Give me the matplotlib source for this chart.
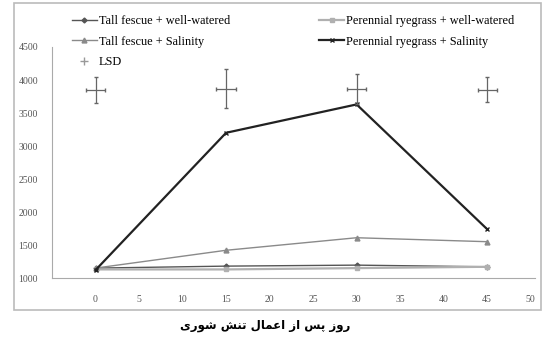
import matplotlib.pyplot as plt
from matplotlib.lines import Line2D
from matplotlib.patches import Rectangle

# data
days = [0, 15, 30, 45]
tf_ww = [1150, 1180, 1195, 1170]
pr_ww = [1130, 1130, 1150, 1170]
tf_sal = [1150, 1420, 1610, 1550]
pr_sal = [1120, 3200, 3630, 1740]
lsd_y = [3850, 3870, 3860, 3850]
lsd_err = [200, 300, 230, 190]
xticks = [0, 5, 10, 15, 20, 25, 30, 35, 40, 45, 50]
yticks = [1000, 1500, 2000, 2500, 3000, 3500, 4000, 4500]

# x label in visual order with Arabic presentation forms (no shaping engine available)
xlabel = ("\uFBFC\uFEAD\uFEEE\uFEB7 \uFEB6\uFEE8\uFE97 "
          "\uFEDD\uFE8E\uFEE4\uFECB\uFE8D \uFEAF\uFE8D \uFEB2\uFB58 \uFEAF\uFEED\uFEAD")

plt.rcParams['font.family'] = ['Liberation Serif', 'DejaVu Serif']

fig = plt.figure(figsize=(5.42, 3.45), dpi=100)
ax = fig.add_axes([52 / 542, 1 - 278 / 345, 483 / 542, 231 / 345])

ax.plot(days, tf_ww, color='#555555', lw=1.0, marker='D', ms=2.5)
ax.plot(days, pr_ww, color='#b0b0b0', lw=1.6, marker='s', ms=3)
ax.plot(days, tf_sal, color='#8a8a8a', lw=1.0, marker='^', ms=3.5)
ax.plot(days, pr_sal, color='#222222', lw=1.6, marker='x', ms=3.5)
ax.errorbar(days, lsd_y, yerr=lsd_err, xerr=1.1, fmt='none',
            ecolor='#666666', elinewidth=0.9, capsize=1.2)

ax.set_xlim(-5, 50.5)
ax.set_ylim(1000, 4500)
ax.set_xticks(xticks)
ax.set_yticks(yticks)
ax.tick_params(length=0, labelsize=7, labelcolor='#555555')
ax.tick_params(axis='y', pad=10)
ax.tick_params(axis='x', pad=12)
for s in ['top', 'right']:
    ax.spines[s].set_visible(False)
for s in ['left', 'bottom']:
    ax.spines[s].set_color('#aaaaaa')
    ax.spines[s].set_linewidth(0.8)

handles = [
    Line2D([], [], color='#555555', lw=1.0, marker='D', ms=2.5),
    Line2D([], [], color='#8a8a8a', lw=1.0, marker='^', ms=3.5),
    Line2D([], [], color='#999999', lw=0, marker='+', ms=6),
    Line2D([], [], color='#b0b0b0', lw=1.6, marker='s', ms=3),
    Line2D([], [], color='#222222', lw=1.6, marker='x', ms=3.5),
]
labels = ['Tall fescue + well-watered', 'Tall fescue + Salinity', 'LSD',
          'Perennial ryegrass + well-watered', 'Perennial ryegrass + Salinity']
fig.legend(handles, labels, ncol=2, loc='upper left', bbox_to_anchor=(66 / 542, 1 - 9 / 345),
           frameon=False, fontsize=8.8, handlelength=2.0, handletextpad=0.2,
           columnspacing=7.3, labelspacing=0.7, borderpad=0)

fig.text(265 / 542, 1 - 326 / 345, xlabel, ha='center', va='center', fontsize=8.5,
         fontweight='bold', family=['DejaVu Sans'])

fig.patches.append(Rectangle((14 / 542, 1 - 310 / 345), 527 / 542, 307 / 345,
                             transform=fig.transFigure, fill=False,
                             edgecolor='#bbbbbb', lw=1.2))

fig.savefig('out.png', dpi=100)
